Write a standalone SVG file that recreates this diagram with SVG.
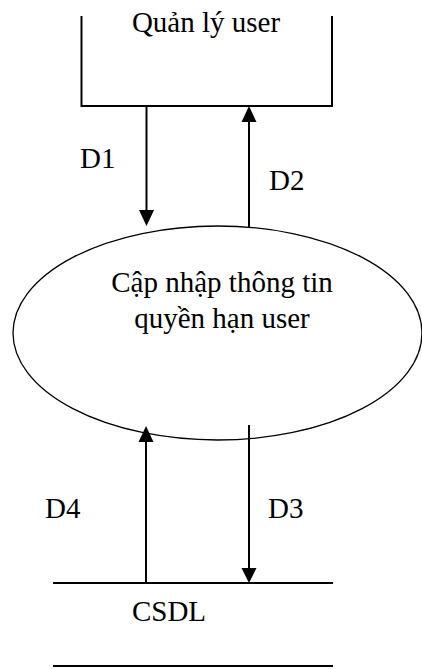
<svg xmlns="http://www.w3.org/2000/svg" width="422" height="669" viewBox="0 0 422 669">
<style>
.t{font-family:"Times New Roman","Liberation Serif","DejaVu Serif",serif;font-size:29px;fill:#000}
.ln{stroke:#000;stroke-width:2;fill:none}
.ah{fill:#000;stroke:none}
</style>
<rect width="422" height="669" fill="#fff"/>
<g id="quan-ly-user">
<path class="ln" d="M81.5,16 V106 H332 V16"/>
<text class="t" x="206" y="32" text-anchor="middle">Quản lý user</text>
</g>
<g id="cap-nhap">
<ellipse cx="217.5" cy="333" rx="204.5" ry="107" fill="none" stroke="#000" stroke-width="1.3"/>
<text class="t" x="222" y="292" text-anchor="middle">Cập nhập thông tin</text>
<text class="t" x="222" y="328" text-anchor="middle">quyền hạn user</text>
</g>
<g id="csdl">
<line class="ln" x1="53" y1="583" x2="333" y2="583"/>
<line class="ln" x1="53" y1="666" x2="333" y2="666"/>
<text class="t" x="169" y="621" text-anchor="middle">CSDL</text>
</g>
<g id="connectors">
<line class="ln" x1="146.5" y1="106" x2="146.5" y2="212"/>
<polygon class="ah" points="139,210 154,210 146.5,226"/>
<line class="ln" x1="249" y1="227" x2="249" y2="120"/>
<polygon class="ah" points="241.5,122 256.5,122 249,106"/>
<line class="ln" x1="146" y1="583" x2="146" y2="440"/>
<polygon class="ah" points="138.5,442 153.5,442 146,426"/>
<line class="ln" x1="249" y1="425" x2="249" y2="570"/>
<polygon class="ah" points="241.5,568 256.5,568 249,583"/>
<text class="t" x="80" y="168">D1</text>
<text class="t" x="269" y="190">D2</text>
<text class="t" x="45" y="518">D4</text>
<text class="t" x="268" y="518">D3</text>
</g>
</svg>
